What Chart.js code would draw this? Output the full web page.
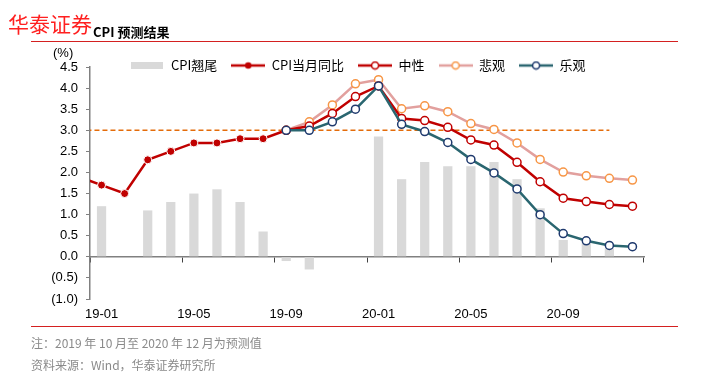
<!DOCTYPE html>
<html lang="zh-CN">
<head>
<meta charset="UTF-8" />
<title>CPI预测结果</title>
<script src="https://cdn.jsdelivr.net/npm/chart.js"></script>
<style>
  body { margin: 0; background: #fff; }
  #wrap { position: relative; width: 702px; height: 385px; overflow: hidden; font-family: "Noto Sans CJK SC", sans-serif; }
  #wrap canvas { position: absolute; left: 0; top: 0; }
  .t { position: absolute; white-space: nowrap; line-height: 1; }
  .rule { position: absolute; left: 31px; width: 647px; height: 1px; background: #d42020; }
  #brand { left: 8px; top: 13px; font-size: 21px; color: #ff2020; }
  #title { left: 93px; top: 25px; font-size: 13px; font-weight: bold; color: #000; }
  #unit { left: 53px; top: 46px; font-size: 13px; font-family: "Liberation Sans", Arial, sans-serif; color: #000; }
  .note { left: 31px; font-size: 12px; color: #8a8a8a; }
</style>
</head>
<body>
<div id="wrap">
  <canvas id="cpiChart" width="702" height="385"></canvas>
  <div class="t" id="brand">华泰证券</div>
  <div class="t" id="title">CPI 预测结果</div>
  <div class="rule" style="top:41px"></div>
  <div class="t" id="unit">(%)</div>
  <div class="rule" style="top:326px"></div>
  <div class="t note" style="top:337px">注：2019 年 10 月至 2020 年 12 月为预测值</div>
  <div class="t note" style="top:359px">资料来源：Wind，华泰证券研究所</div>
</div>
<script>
// 18-12 is only there so the actual line comes in from the left edge
const months = ["18-12",
  "19-01", "19-02", "19-03", "19-04", "19-05", "19-06", "19-07", "19-08", "19-09", "19-10", "19-11", "19-12",
  "20-01", "20-02", "20-03", "20-04", "20-05", "20-06", "20-07", "20-08", "20-09", "20-10", "20-11", "20-12"];
const carryover = [null,
  1.2, null, 1.1, 1.3, 1.5, 1.6, 1.3, 0.6, -0.1, -0.3, null, null,
  2.85, 1.84, 2.25, 2.15, 2.15, 2.25, 1.84, 1.15, 0.4, 0.32, 0.2, null];
const actual = [1.9,
  1.7, 1.5, 2.3, 2.5, 2.7, 2.7, 2.8, 2.8, 3.0, null, null, null,
  null, null, null, null, null, null, null, null, null, null, null, null];
const neutral = [null,
  null, null, null, null, null, null, null, null, 3.0, 3.1, 3.4, 3.8,
  4.05, 3.28, 3.23, 3.07, 2.77, 2.65, 2.24, 1.78, 1.39, 1.31, 1.24, 1.2];
const pessimistic = [null,
  null, null, null, null, null, null, null, null, 3.0, 3.2, 3.6, 4.1,
  4.2, 3.51, 3.58, 3.44, 3.16, 3.02, 2.7, 2.31, 2.01, 1.92, 1.86, 1.82];
const optimistic = [null,
  null, null, null, null, null, null, null, null, 3.0, 3.0, 3.2, 3.5,
  4.05, 3.14, 2.97, 2.71, 2.31, 1.99, 1.61, 1.0, 0.55, 0.38, 0.27, 0.24];
const threshold = [3.0,
  3.0, 3.0, 3.0, 3.0, 3.0, 3.0, 3.0, 3.0, 3.0, 3.0, 3.0, 3.0,
  3.0, 3.0, 3.0, 3.0, 3.0, 3.0, 3.0, 3.0, 3.0, 3.0, 3.0, null];
const yTicks = { min: -1, max: 4.5, step: 0.5 };

const RED = "#c00000";

function lineMarker(line, border, fill, r) {
  const c = document.createElement("canvas");
  c.width = 34; c.height = 10;
  const g = c.getContext("2d");
  g.strokeStyle = line; g.lineWidth = 2.5;
  g.beginPath(); g.moveTo(0, 5); g.lineTo(34, 5); g.stroke();
  g.beginPath(); g.arc(17, 5, r, 0, Math.PI * 2);
  g.fillStyle = fill; g.fill();
  g.strokeStyle = border; g.lineWidth = 1.5; g.stroke();
  return c;
}
function barMarker() {
  const c = document.createElement("canvas");
  c.width = 32; c.height = 7;
  const g = c.getContext("2d");
  g.fillStyle = "#d9d9d9"; g.fillRect(0, 0, 32, 7);
  return c;
}
const markers = [
  barMarker(),
  lineMarker(RED, RED, RED, 2.5),
  lineMarker(RED, RED, "#fff", 3.5),
  lineMarker("#e2a09e", "#f79646", "#fff", 3.5),
  lineMarker("#2a6670", "#1f3a6e", "#fff", 3.5),
];

// legend sits over the top of the plot, like in the report
const legendPlace = {
  id: "legendPlace",
  beforeInit(chart) {
    const fit = chart.legend.fit;
    chart.legend.fit = function () { fit.call(this); this.height = 22; };
  },
  afterLayout(chart) {
    const lg = chart.legend;
    lg.left += 16;
    lg.right += 16;
    lg.bottom += 20; // otherwise the legend clip cuts the text
  },
};

const ctx = document.getElementById("cpiChart").getContext("2d");
Chart.defaults.font.family = '"Liberation Sans", Arial, sans-serif';
Chart.defaults.color = "#000";

new Chart(ctx, {
  type: "bar",
  data: {
    labels: months,
    datasets: [
      {
        label: "CPI翘尾",
        data: carryover,
        backgroundColor: "#d9d9d9",
        barPercentage: 0.4,
        categoryPercentage: 1.0,
        order: 10,
      },
      {
        type: "line",
        label: "CPI当月同比",
        data: actual,
        borderColor: RED,
        borderWidth: 2.5,
        pointRadius: 4,
        pointBackgroundColor: RED,
        pointBorderColor: "#fff",
        pointBorderWidth: 1,
        clip: { left: 0, top: 5, right: 5, bottom: 5 },
        order: 4,
      },
      {
        type: "line",
        label: "中性",
        data: neutral,
        borderColor: RED,
        borderWidth: 2.5,
        pointRadius: 4,
        pointBackgroundColor: "#fff",
        pointBorderColor: RED,
        pointBorderWidth: 1.5,
        order: 2,
      },
      {
        type: "line",
        label: "悲观",
        data: pessimistic,
        borderColor: "#e2a09e",
        borderWidth: 2.5,
        pointRadius: 4,
        pointBackgroundColor: "#fff",
        pointBorderColor: "#f79646",
        pointBorderWidth: 1.5,
        order: 3,
      },
      {
        type: "line",
        label: "乐观",
        data: optimistic,
        borderColor: "#2a6670",
        borderWidth: 2.5,
        pointRadius: 4,
        pointBackgroundColor: "#fff",
        pointBorderColor: "#1f3a6e",
        pointBorderWidth: 1.5,
        order: 1,
      },
      {
        type: "line",
        label: "3%",
        data: threshold,
        borderColor: "#e46c0a",
        borderWidth: 1.5,
        borderDash: [5, 3],
        pointRadius: 0,
        clip: { left: 0, top: 5, right: 5, bottom: 5 },
        order: 5,
      },
    ],
  },
  options: {
    responsive: false,
    animation: false,
    devicePixelRatio: 1,
    layout: { padding: { left: 40, right: 58, top: 45, bottom: 56 } },
    plugins: {
      tooltip: { enabled: false },
      legend: {
        position: "top",
        labels: {
          usePointStyle: true,
          pointStyleWidth: 34,
          boxHeight: 10,
          padding: 14,
          font: { family: '"Noto Sans CJK SC", sans-serif', size: 13 },
          generateLabels: (chart) =>
            [0, 1, 2, 3, 4].map((i) => ({
              text: chart.data.datasets[i].label,
              pointStyle: markers[i],
              fillStyle: "transparent",
              strokeStyle: "transparent",
              lineWidth: 0,
              hidden: false,
              datasetIndex: i,
            })),
        },
      },
    },
    scales: {
      x: {
        type: "category",
        position: { y: 0 },
        min: "19-01",
        offset: true,
        grid: {
          offset: true,
          drawOnChartArea: false,
          drawTicks: true,
          tickLength: 5,
          lineWidth: 1,
          color: (c) => (c.type !== "tick" || c.index % 4 === 0 ? "#404040" : "transparent"),
        },
        border: { display: true, color: "#808080", width: 1.5 },
        ticks: { display: false, autoSkip: false },
      },
      x2: {
        type: "category",
        position: "bottom",
        labels: months,
        min: "19-01",
        offset: true,
        grid: { display: false, drawTicks: false },
        border: { display: false },
        ticks: {
          autoSkip: false,
          maxRotation: 0,
          padding: 8,
          font: { size: 13 },
          callback: function (value, index) {
            return index % 4 === 0 ? this.getLabelForValue(value) : "";
          },
        },
        afterFit: (scale) => { scale.height = 30; },
      },
      y: {
        min: yTicks.min,
        max: yTicks.max,
        ticks: {
          stepSize: yTicks.step,
          padding: 8,
          font: { size: 13 },
          callback: (v) => (v < 0 ? "(" + (-v).toFixed(1) + ")" : v.toFixed(1)),
        },
        grid: { drawOnChartArea: false, drawTicks: true, tickLength: 4, color: "#808080" },
        border: { display: true, color: "#808080", width: 1.5 },
        afterFit: (scale) => { scale.width = 50; },
      },
    },
  },
  plugins: [legendPlace],
});
</script>
</body>
</html>
